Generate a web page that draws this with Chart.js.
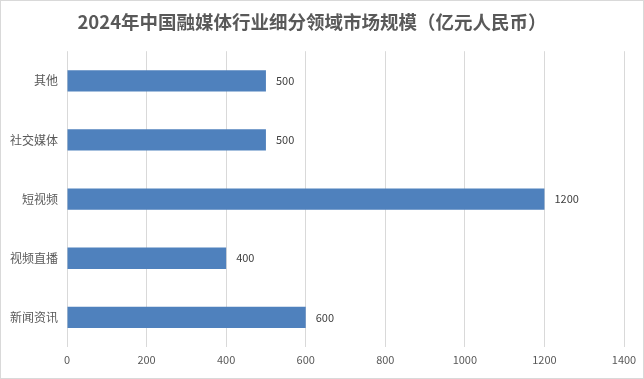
<!DOCTYPE html>
<html>
<head>
<meta charset="utf-8">
<script src="https://cdn.jsdelivr.net/npm/chart.js@4/dist/chart.umd.min.js"></script>
<style>
html,body{margin:0;padding:0;background:#fff;}
#wrap{width:644px;height:379px;position:relative;}
</style>
</head>
<body>
<div id="wrap"><canvas id="c" width="644" height="379"></canvas></div>
<script>
const categories = ["其他", "社交媒体", "短视频", "视频直播", "新闻资讯"];
const values = [500, 500, 1200, 400, 600];
const titleText = "2024年中国融媒体行业细分领域市场规模（亿元人民币）";

const FONT = '"Noto Sans CJK SC", "Noto Sans", sans-serif';

const borderPlugin = {
  id: 'outerBorder',
  beforeDraw(chart) {
    const ctx = chart.ctx;
    ctx.save();
    ctx.fillStyle = '#ffffff';
    ctx.fillRect(0, 0, chart.width, chart.height);
    ctx.strokeStyle = '#d9d9d9';
    ctx.lineWidth = 1;
    ctx.strokeRect(0.5, 0.5, chart.width - 1, chart.height - 1);
    ctx.restore();
  }
};

const labelPlugin = {
  id: 'valueLabels',
  afterDatasetsDraw(chart) {
    const ctx = chart.ctx;
    const meta = chart.getDatasetMeta(0);
    ctx.save();
    ctx.font = '11px ' + FONT;
    ctx.fillStyle = '#404040';
    ctx.textAlign = 'left';
    ctx.textBaseline = 'middle';
    meta.data.forEach((bar, i) => {
      ctx.fillText(String(values[i]), bar.x + 10, bar.y);
    });
    ctx.restore();
  }
};

new Chart(document.getElementById('c'), {
  type: 'bar',
  data: {
    labels: categories,
    datasets: [{
      data: values,
      backgroundColor: '#4f81bd',
      borderWidth: 0,
      barPercentage: 0.72,
      categoryPercentage: 0.5
    }]
  },
  options: {
    indexAxis: 'y',
    responsive: false,
    animation: false,
    layout: { padding: { left: 0, right: 20, top: 0, bottom: 0 } },
    plugins: {
      legend: { display: false },
      tooltip: { enabled: false },
      title: {
        display: true,
        text: titleText,
        color: '#595959',
        font: { family: FONT, size: 18.5, weight: 'bold' },
        padding: { top: 11, bottom: 18 }
      }
    },
    scales: {
      x: {
        min: 0,
        max: 1400,
        ticks: {
          stepSize: 200, color: '#595959', font: { family: FONT, size: 11 }, padding: 6,
          callback: (v) => String(v)
        },
        grid: { color: '#d9d9d9', drawTicks: false, lineWidth: 1 },
        border: { display: false },
        afterFit(scale) { scale.height = 32; }
      },
      y: {
        ticks: { color: '#595959', font: { family: FONT, size: 12 }, padding: 9 },
        grid: { display: false, drawTicks: false },
        border: { display: false },
        afterFit(scale) { scale.width = 67; }
      }
    }
  },
  plugins: [borderPlugin, labelPlugin]
});
</script>
</body>
</html>
